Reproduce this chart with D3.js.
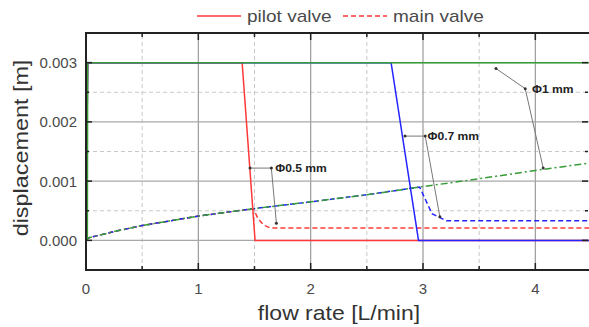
<!DOCTYPE html>
<html>
<head>
<meta charset="utf-8">
<script src="https://cdn.jsdelivr.net/npm/d3@7"></script>
<style>
  body { margin: 0; background: #fff; }
  svg { display: block; }
</style>
</head>
<body>
<div id="chart"></div>
<script>
// shared rising curve of the main valves
const riseX = [0, 0.02, 0.25, 0.5, 1, 1.49, 2, 2.5, 2.97, 3.5, 4, 4.5];
const riseY = [0, 0.00004, 0.00015, 0.00025, 0.00041, 0.000535, 0.00065, 0.00077, 0.0009, 0.00104, 0.00118, 0.00131];

// main valve tails after closing
const redTailX = [1.53, 1.58, 1.64, 4.5];
const redTailY = [0.00037, 0.00026, 0.00021, 0.00021];
const blueTailX = [3.08, 3.21, 4.5];
const blueTailY = [0.00045, 0.00033, 0.00033];

// pilot valves
const redPilotX = [0, 0.015, 1.39, 1.505, 4.5];
const redPilotY = [0, 0.003, 0.003, 0, 0];
const bluePilotX = [0, 0.015, 2.716, 2.96, 4.5];
const bluePilotY = [0, 0.003, 0.003, 0, 0];
const greenPilotX = [0.012, 0.015, 4.5];
const greenPilotY = [0, 0.003, 0.003];

const xMajor = [0, 1, 2, 3, 4];
const xMinor = [0.5, 1.5, 2.5, 3.5, 4.5];
const yMajor = [0, 0.001, 0.002, 0.003];
const yMinor = [0.0005, 0.0015, 0.0025];
const yTickLabels = ['0.000', '0.001', '0.002', '0.003'];

const width = 589, height = 327;
const x = d3.scaleLinear().domain([0, 4.5]).range([86, 591.5]);
const y = d3.scaleLinear().domain([-0.0005, 0.0035]).range([270, 33]);

const zip = (xs, ys) => xs.map((v, i) => [v, ys[i]]);
const redMain = zip(riseX, riseY).filter(d => d[0] <= 1.49).concat(zip(redTailX, redTailY));
const blueMain = zip(riseX, riseY).filter(d => d[0] <= 2.97).concat(zip(blueTailX, blueTailY));
const greenMain = zip(riseX, riseY);

const RED = '#ff3838', BLUE = '#2424ff', GREEN = '#379b37';
const FONT = '"Liberation Sans", Arial, sans-serif';

const svg = d3.select('#chart').append('svg')
  .attr('width', width).attr('height', height);

// stretched text helper
function label(g, px, py, txt, size, opts = {}) {
  const t = g.append('g')
    .attr('transform', `translate(${px},${py}) rotate(${opts.rot || 0}) scale(${opts.sx || 1},1)`)
    .append('text')
    .attr('font-family', FONT)
    .attr('font-size', size)
    .attr('font-weight', opts.bold ? 'bold' : 'normal')
    .attr('fill', opts.fill || '#4a4a4a')
    .attr('text-anchor', opts.anchor || 'start')
    .text(txt);
  return t;
}

const x0 = x.range()[0], x1 = x.range()[1];
const y0 = y.range()[0], y1 = y.range()[1];

svg.append('defs').append('clipPath').attr('id', 'plot')
  .append('rect').attr('x', x0).attr('y', y1).attr('width', x1 - x0).attr('height', y0 - y1);

// grid
const grid = svg.append('g');
grid.selectAll('.vmin').data(xMinor).enter().append('line')
  .attr('x1', d => x(d)).attr('x2', d => x(d)).attr('y1', y0).attr('y2', y1)
  .attr('stroke', '#c8c8c8').attr('stroke-dasharray', '4,3');
grid.selectAll('.hmin').data(yMinor).enter().append('line')
  .attr('x1', x0).attr('x2', x1).attr('y1', d => y(d)).attr('y2', d => y(d))
  .attr('stroke', '#c8c8c8').attr('stroke-dasharray', '4,3');
grid.selectAll('.vmaj').data(xMajor.slice(1)).enter().append('line')
  .attr('x1', d => x(d)).attr('x2', d => x(d)).attr('y1', y0).attr('y2', y1)
  .attr('stroke', '#9a9a9a').attr('stroke-width', 1.2);
grid.selectAll('.hmaj').data(yMajor).enter().append('line')
  .attr('x1', x0).attr('x2', x1).attr('y1', d => y(d)).attr('y2', d => y(d))
  .attr('stroke', '#a8a8a8').attr('stroke-width', 1.4);

// curves
const line = d3.line().x(d => x(d[0])).y(d => y(d[1]));
const plot = svg.append('g').attr('clip-path', 'url(#plot)');
const curves = [
  { data: redMain, color: RED, dash: '5,3' },
  { data: blueMain, color: BLUE, dash: '5,3' },
  { data: greenMain, color: GREEN, dash: '7,3,2,3' },
  { data: zip(redPilotX, redPilotY), color: RED, dash: null },
  { data: zip(bluePilotX, bluePilotY), color: BLUE, dash: null },
  { data: zip(greenPilotX, greenPilotY), color: GREEN, dash: null }
];
plot.selectAll('path.c').data(curves).enter().append('path')
  .attr('d', d => line(d.data))
  .attr('fill', 'none')
  .attr('stroke', d => d.color)
  .attr('stroke-width', 1.5)
  .attr('stroke-dasharray', d => d.dash);

// frame and inward ticks
const frame = svg.append('g').attr('stroke', '#222');
frame.append('rect').attr('x', x0).attr('y', y1).attr('width', x1 - x0).attr('height', y0 - y1)
  .attr('fill', 'none').attr('stroke-width', 2);
const xt = xMajor.map(v => [v, 7]).concat(xMinor.map(v => [v, 4]));
const yt = yMajor.map(v => [v, 6]).concat(yMinor.map(v => [v, 3]));
frame.selectAll('.tb').data(xt).enter().append('line')
  .attr('x1', d => x(d[0])).attr('x2', d => x(d[0])).attr('y1', y0).attr('y2', d => y0 - d[1]).attr('stroke-width', 1.5);
frame.selectAll('.tt').data(xt).enter().append('line')
  .attr('x1', d => x(d[0])).attr('x2', d => x(d[0])).attr('y1', y1).attr('y2', d => y1 + d[1]).attr('stroke-width', 1.5);
frame.selectAll('.tl').data(yt).enter().append('line')
  .attr('y1', d => y(d[0])).attr('y2', d => y(d[0])).attr('x1', x0).attr('x2', d => x0 + d[1]).attr('stroke-width', 1.5);
frame.selectAll('.tr').data(yt).enter().append('line')
  .attr('y1', d => y(d[0])).attr('y2', d => y(d[0])).attr('x1', 588).attr('x2', d => 588 - d[1]).attr('stroke-width', 1.5);

// tick labels
const labels = svg.append('g');
xMajor.forEach(v => label(labels, x(v), 293.5, String(v), 15, { anchor: 'middle' }));
yMajor.forEach((v, i) => label(labels, 77, y(v) + 5.5, yTickLabels[i], 15, { anchor: 'end' }));

// axis titles
label(labels, 339, 320, 'flow rate [L/min]', 20, { anchor: 'middle', sx: 1.15, fill: '#333' });
label(labels, 28, 148, 'displacement [m]', 20, { anchor: 'middle', sx: 1.17, rot: -90, fill: '#333' });

// legend
const leg = svg.append('g');
leg.append('line').attr('x1', 197).attr('x2', 241).attr('y1', 16).attr('y2', 16)
  .attr('stroke', RED).attr('stroke-width', 1.5);
label(leg, 247, 22, 'pilot valve', 17, { sx: 1.12 });
leg.append('line').attr('x1', 343).attr('x2', 387).attr('y1', 16).attr('y2', 16)
  .attr('stroke', RED).attr('stroke-width', 1.5).attr('stroke-dasharray', '5,3');
label(leg, 393, 22, 'main valve', 17, { sx: 1.12 });

// annotations (leader lines)
const notes = [
  { pts: [[1.46, 0.00122], [1.65, 0.00122], [1.695, 0.00029]], tx: 1.685, ty: 0.00122, text: 'Φ0.5 mm' },
  { pts: [[2.84, 0.00176], [3.02, 0.00176], [3.15, 0.0004]], tx: 3.04, ty: 0.00176, text: 'Φ0.7 mm' },
  { pts: [[3.65, 0.0029], [3.91, 0.00256], [4.07, 0.00122]], tx: 3.97, ty: 0.00256, text: 'Φ1 mm' }
];
const ann = svg.append('g');
notes.forEach(n => {
  ann.append('path').attr('d', line(n.pts)).attr('fill', 'none')
    .attr('stroke', '#777').attr('stroke-width', 1);
  ann.selectAll(null).data(n.pts).enter().append('circle')
    .attr('cx', d => x(d[0])).attr('cy', d => y(d[1])).attr('r', 1.5).attr('fill', '#333');
  label(ann, x(n.tx), y(n.ty) + 4, n.text, 11, { bold: true, sx: 1.1, fill: '#222' });
});
</script>
</body>
</html>
